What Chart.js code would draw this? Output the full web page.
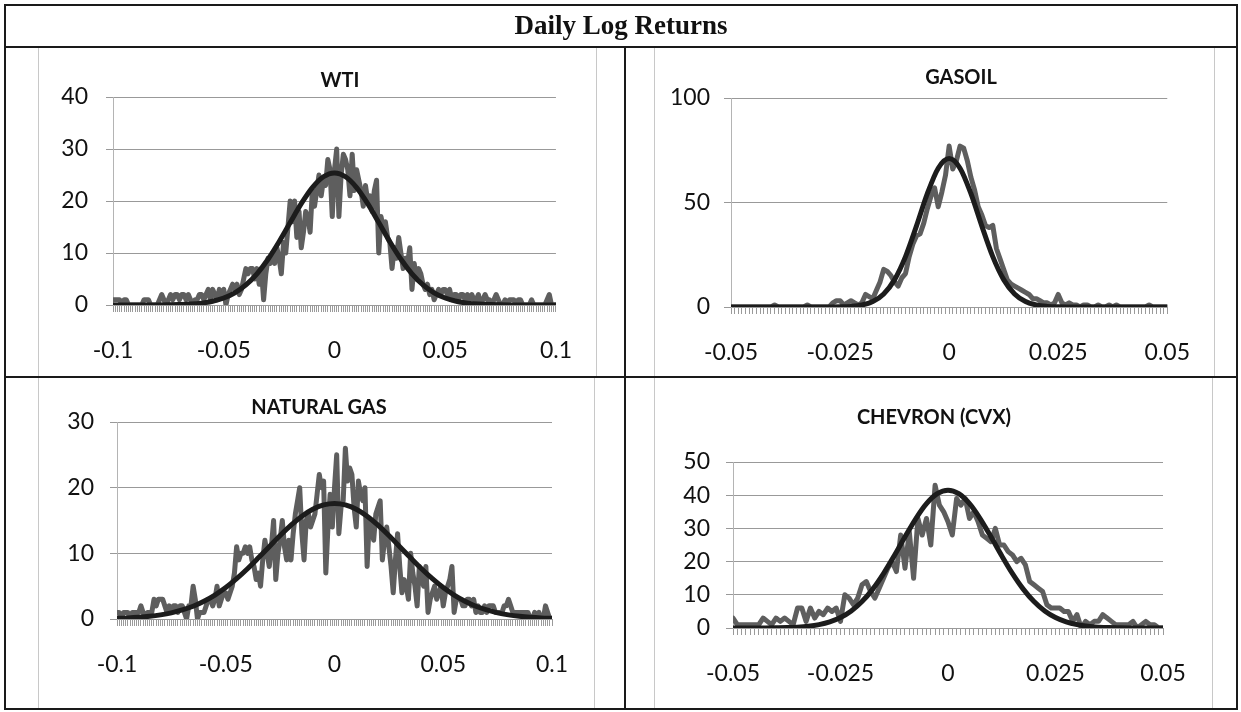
<!DOCTYPE html>
<html>
<head>
<meta charset="utf-8">
<title>Daily Log Returns</title>
<script src="https://cdn.jsdelivr.net/npm/chart.js@4.4.1/dist/chart.umd.min.js"></script>
<style>
  body { margin: 0; background: #fff; width: 1241px; height: 712px; position: relative; overflow: hidden; }
  .frame { position: absolute; left: 4px; top: 4px; width: 1234px; height: 706px; border: 2px solid #1a1a1a; box-sizing: border-box; }
  .rule { position: absolute; background: #1a1a1a; }
  .head { position: absolute; left: 4px; top: 10px; width: 1234px; height: 32px; line-height: 32px; text-align: center;
          font: bold 27px "Liberation Serif", "Times New Roman", serif; color: #111; }
  .box { position: absolute; outline: 1px solid #c8c8c8; outline-offset: -1px; }
  .box canvas { position: absolute; left: 0; top: 0; }
  .ttl { position: absolute; font: bold 20px Lato, sans-serif; line-height: 20px; color: #111; transform: translateX(-50%); white-space: nowrap; }
</style>
</head>
<body>
<div class="box" style="left:38px;top:46px;width:559px;height:331px"><canvas id="wti" width="559" height="331"></canvas></div>
<div class="box" style="left:654px;top:46px;width:561px;height:331px"><canvas id="gasoil" width="561" height="331"></canvas></div>
<div class="box" style="left:38px;top:376px;width:557px;height:334px"><canvas id="natgas" width="557" height="334"></canvas></div>
<div class="box" style="left:654px;top:376px;width:559px;height:334px"><canvas id="cvx" width="559" height="334"></canvas></div>

<div class="ttl" style="left:340px;top:69px">WTI</div>
<div class="ttl" style="left:961px;top:66px">GASOIL</div>
<div class="ttl" style="left:319px;top:396px">NATURAL GAS</div>
<div class="ttl" style="left:934px;top:406px">CHEVRON (CVX)</div>

<div class="frame"></div>
<div class="head">Daily Log Returns</div>
<div class="rule" style="left:4px;top:46px;width:1234px;height:2px"></div>
<div class="rule" style="left:4px;top:376px;width:1234px;height:2px"></div>
<div class="rule" style="left:624px;top:46px;width:2px;height:664px"></div>

<script>
// histogram of daily log returns (bins of 0.001 from -0.1)
const wtiCounts = [
  1,1,1,1,0,1,1,0,0,0,
  0,0,0,0,1,1,1,0,0,0,
  0,1,2,1,0,1,2,1,2,2,
  1,2,2,1,2,1,0,1,1,2,
  2,1,2,3,1,3,2,1,3,2,
  3,0,2,3,4,3,4,2,3,5,
  7,6,7,7,5,7,4,7,1,6,
  9,8,10,8,11,9,6,12,10,15,
  20,16,20,13,18,11,14,18,17,14,
  22,19,22,25,21,24,23,28,26,17,
  26,30,17,25,29,28,26,21,29,22,
  26,24,22,19,23,20,21,18,22,24,
  10,17,15,16,13,12,7,11,9,13,
  10,7,9,8,11,3,8,5,7,6,
  4,3,4,2,3,1,2,3,2,3,
  3,2,3,1,2,2,1,2,2,1,
  2,1,2,1,1,2,0,1,2,1,
  1,0,1,2,1,0,0,1,0,1,
  1,1,0,1,1,0,0,0,0,1,
  0,0,0,0,0,0,1,2,0,0,
  0
];
// fitted normal curve, every 0.005 from -0.1
const wtiFit = [
  0,0,0,0,0.01,0.03,0.08,0.17,0.36,0.72,1.34,2.34,3.86,6.00,8.80,12.17,15.86,19.49,22.58,24.66,
  25.4,
  24.66,22.58,19.49,15.86,12.17,8.80,6.00,3.86,2.34,1.34,0.72,0.36,0.17,0.08,0.03,0.01,0,0,0,0
];

// bins of 1/1200 from -0.05
const gasoilCounts = [
  0,0,0,0,0,0,0,0,0,0,
  0,0,1,0,0,0,0,0,0,0,
  0,1,0,0,0,0,0,0,2,3,
  3,1,2,3,2,1,2,6,5,4,
  8,12,18,17,15,12,10,14,16,24,
  30,34,35,40,47,53,57,48,55,63,
  77,66,70,77,76,70,62,56,48,44,
  39,38,39,28,23,18,13,11,10,9,
  8,7,6,4,4,3,2,2,1,2,
  6,2,1,2,1,1,0,1,1,0,
  0,1,0,0,1,0,1,0,0,0,
  0,0,0,0,0,1,0,0,0,0,
  0
];
// every 0.0025 from -0.05
const gasoilFit = [
  0,0,0,0,0,0,0,0,0,0.02,0.08,0.30,0.94,2.59,6.23,13.1,24.1,38.7,54.2,66.4,
  71,
  66.4,54.2,38.7,24.1,13.1,6.23,2.59,0.94,0.30,0.08,0.02,0,0,0,0,0,0,0,0,0
];

// bins of 0.001 from -0.1
const natgasCounts = [
  1,1,0,1,1,1,0,1,1,1,
  1,2,1,0,1,1,1,3,2,3,
  3,3,2,1,2,1,2,2,1,2,
  2,1,0,2,2,5,3,0,1,1,
  1,2,3,3,2,3,5,2,3,4,
  4,3,4,5,7,11,9,10,10,11,
  10,11,9,8,6,7,5,9,12,10,
  8,11,15,6,10,12,15,11,9,12,
  9,13,16,18,20,13,9,15,16,14,
  15,16,19,22,20,21,7,14,19,14,
  20,25,13,17,18,26,21,23,22,17,
  14,21,19,18,20,8,15,14,12,16,
  17,18,9,12,14,11,8,4,9,13,
  8,4,6,5,3,10,7,5,2,8,
  6,5,8,1,3,4,5,3,4,5,
  2,4,5,6,8,1,3,3,3,2,
  2,3,3,2,3,1,2,1,1,2,
  1,2,2,2,1,1,1,1,2,2,
  3,2,1,1,1,1,1,1,1,1,
  0,0,1,0,1,0,0,2,1,0,
  0
];
// every 0.005 from -0.1
const natgasFit = [
  0.10,0.16,0.26,0.41,0.63,0.94,1.38,1.95,2.71,3.65,4.79,6.14,7.65,9.31,11.02,12.71,14.29,15.66,16.71,17.37,
  17.6,
  17.37,16.71,15.66,14.29,12.71,11.02,9.31,7.65,6.14,4.79,3.65,2.71,1.95,1.38,0.94,0.63,0.41,0.26,0.16,0.10
];

// bins of 0.001 from -0.05
const cvxCounts = [
  3,1,1,1,1,1,1,3,2,1,
  3,2,3,2,1,6,6,2,6,3,
  5,4,6,5,6,2,10,9,7,9,
  13,14,11,9,12,15,18,20,17,28,
  18,29,15,33,28,33,25,43,37,35,
  32,28,39,37,39,33,35,32,28,27,
  26,30,25,25,23,22,20,21,19,14,
  13,12,11,7,6,6,6,5,5,2,
  4,0,2,1,2,2,4,3,2,1,
  1,1,1,2,0,1,2,1,1,0,
  0
];
// every 0.0025 from -0.05
const cvxFit = [
  0,0,0.01,0.02,0.06,0.12,0.26,0.53,1.01,1.82,3.14,5.12,7.95,11.71,16.38,21.76,27.45,32.89,37.43,40.44,
  41.5,
  40.44,37.43,32.89,27.45,21.76,16.38,11.71,7.95,5.12,3.14,1.82,1.01,0.53,0.26,0.12,0.06,0.02,0.01,0,0
];

const wideXTicks = [-0.1, -0.05, 0, 0.05, 0.1];
const narrowXTicks = [-0.05, -0.025, 0, 0.025, 0.05];
const wtiYTicks = [0, 10, 20, 30, 40];
const gasoilYTicks = [0, 50, 100];
const natgasYTicks = [0, 10, 20, 30];
const cvxYTicks = [0, 10, 20, 30, 40, 50];

const tickFont = { family: 'Lato, sans-serif', size: 23 };
const axisGrey = '#9a9a9a';

function drawPanel(id, o) {
  const hist = o.counts.map((v, i) => ({ x: o.binStart + i * o.binWidth, y: v }));
  const fit = o.fit.map((v, i) => ({ x: o.fitStart + i * o.fitStep, y: v }));

  new Chart(document.getElementById(id), {
    type: 'line',
    data: {
      datasets: [
        { data: fit, borderColor: '#1c1c1c', borderWidth: 5, pointRadius: 0,
          cubicInterpolationMode: 'monotone', borderJoinStyle: 'round', borderCapStyle: 'round' },
        { data: hist, borderColor: '#5e5e5e', borderWidth: 5, pointRadius: 0,
          tension: 0, borderJoinStyle: 'round', borderCapStyle: 'round' }
      ]
    },
    options: {
      responsive: false,
      animation: false,
      devicePixelRatio: 1,
      layout: { padding: { left: 0, top: o.top, right: o.right, bottom: 0 } },
      plugins: { legend: { display: false }, tooltip: { enabled: false } },
      scales: {
        x: {
          type: 'linear',
          min: o.xTicks[0],
          max: o.xTicks[o.xTicks.length - 1],
          // one tick mark per bin, labels only on the round values
          afterBuildTicks: s => { s.ticks = hist.map(p => ({ value: p.x })); },
          afterFit: s => { s.height = o.xHeight; },
          ticks: {
            autoSkip: false, maxRotation: 0, padding: 25, font: tickFont, color: '#111',
            callback: v => {
              const t = o.xTicks.find(t => Math.abs(t - v) < 1e-9);
              return t === undefined ? '' : String(t);
            }
          },
          grid: { drawOnChartArea: false, drawTicks: true, tickLength: 7, tickColor: axisGrey },
          border: { color: axisGrey }
        },
        y: {
          min: 0,
          max: o.yTicks[o.yTicks.length - 1],
          afterBuildTicks: s => { s.ticks = o.yTicks.map(v => ({ value: v })); },
          afterFit: s => { s.width = o.yWidth; },
          ticks: { padding: o.yPad, font: tickFont, color: '#111' },
          grid: { color: '#999', tickLength: 7, tickColor: '#999' },
          border: { color: '#b4b4b4' }
        }
      }
    }
  });
}

drawPanel('wti', {
  counts: wtiCounts, binStart: -0.1, binWidth: 0.001,
  fit: wtiFit, fitStart: -0.1, fitStep: 0.005,
  xTicks: wideXTicks, yTicks: wtiYTicks,
  top: 51, right: 40, yWidth: 75, xHeight: 72, yPad: 18
});
drawPanel('gasoil', {
  counts: gasoilCounts, binStart: -0.05, binWidth: 0.1 / 120,
  fit: gasoilFit, fitStart: -0.05, fitStep: 0.0025,
  xTicks: narrowXTicks, yTicks: gasoilYTicks,
  top: 52, right: 35, yWidth: 77, xHeight: 70, yPad: 14
});
drawPanel('natgas', {
  counts: natgasCounts, binStart: -0.1, binWidth: 0.001,
  fit: natgasFit, fitStart: -0.1, fitStep: 0.005,
  xTicks: wideXTicks, yTicks: natgasYTicks,
  top: 46, right: 43, yWidth: 79, xHeight: 91, yPad: 16
});
drawPanel('cvx', {
  counts: cvxCounts, binStart: -0.05, binWidth: 0.001,
  fit: cvxFit, fitStart: -0.05, fitStep: 0.0025,
  xTicks: narrowXTicks, yTicks: cvxYTicks,
  top: 86, right: 50, yWidth: 79, xHeight: 82, yPad: 16
});
</script>
</body>
</html>
